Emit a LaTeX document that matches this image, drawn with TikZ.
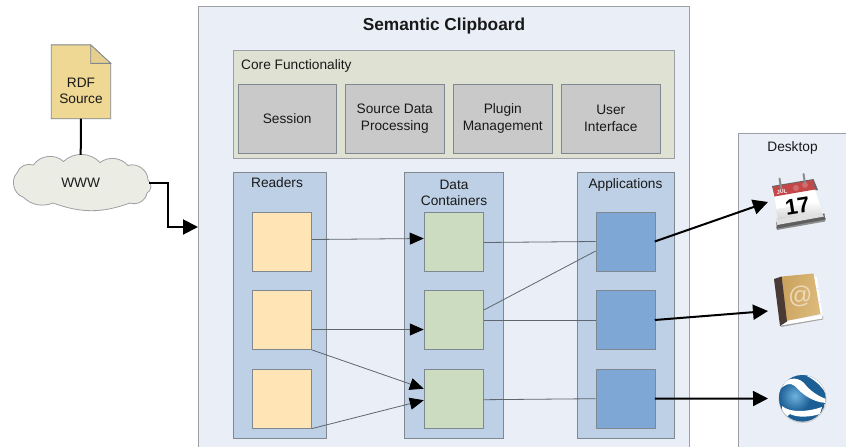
\documentclass[tikz,border=0pt]{standalone}
\usepackage{fontspec}
\setmainfont{Liberation Sans}
\usetikzlibrary{arrows.meta,calc}
\definecolor{panelfill}{HTML}{E9EEF7}
\definecolor{panelline}{HTML}{9C9FA3}
\definecolor{corefill}{HTML}{DFE2D2}
\definecolor{grayfill}{HTML}{C9C9C9}
\definecolor{groupfill}{HTML}{BDD0E5}
\definecolor{boxline}{HTML}{7F8790}
\definecolor{yellowfill}{HTML}{FFE4B5}
\definecolor{greenfill}{HTML}{CBDCC0}
\definecolor{bluefill}{HTML}{7FA7D6}
\definecolor{docfill}{HTML}{EFD794}
\definecolor{foldfill}{HTML}{E6CF8E}
\definecolor{cloudfill}{HTML}{EBEDE5}
\definecolor{linkgray}{HTML}{5F666D}
\definecolor{calred}{HTML}{C4474A}
\definecolor{caldark}{HTML}{5E5E5E}
\definecolor{booktan}{HTML}{CBA35F}
\definecolor{booktanlight}{HTML}{DDBB7C}
\definecolor{bookspine}{HTML}{4A3A36}
\definecolor{ballblue}{HTML}{1B5F96}
\definecolor{balllight}{HTML}{6FB2DE}
\tikzset{
  x=1pt,y=-1pt,
  lbl/.style={font=\fontsize{13.7}{16.7}\selectfont,align=center,text=black!90},
  panel/.style={draw=panelline,fill=panelfill,line width=0.9pt,inner sep=0pt,anchor=north west},
  group/.style={draw=boxline,fill=groupfill,line width=0.8pt,inner sep=0pt,anchor=north west},
  corebox/.style={draw=panelline,fill=corefill,line width=0.8pt,inner sep=0pt,anchor=north west},
  graybox/.style={draw=boxline,fill=grayfill,line width=0.8pt,inner sep=0pt,lbl,minimum width=98.5pt,minimum height=69pt},
  cell/.style={draw=boxline,line width=0.8pt,inner sep=0pt,minimum width=59.3pt,minimum height=59pt},
  thinlink/.style={draw=linkgray,line width=0.8pt,-{Triangle[length=14pt,width=12pt,fill=black,color=black]}},
  plainlink/.style={draw=linkgray,line width=0.8pt},
  thicklink/.style={draw=black,line width=2pt,-{Triangle[length=15pt,width=15pt,fill=black]}},
  heavy/.style={draw=black,line width=2pt},
}
\begin{document}
\begin{tikzpicture}
\clip (0,0) rectangle (846,447);
\fill[white] (0,0) rectangle (846,447);
% panels
\node[panel,minimum width=491pt,minimum height=470pt] (main) at (198,6) {};
\node[panel,minimum width=130pt,minimum height=330pt] (desk) at (738,133) {};
\node[font=\bfseries\fontsize{17.3}{20}\selectfont,text=black!90] (title) at (444,26.5) {Semantic Clipboard};
\node[lbl] (desktitle) at (792.5,147.5) {Desktop};
% core
\node[corebox,minimum width=441pt,minimum height=108pt] (core) at (232.7,50) {};
\node[lbl,anchor=west,inner sep=0pt] (coretitle) at (241,65.5) {Core Functionality};
\node[graybox] (session) at (287.2,118.5) {Session};
\node[graybox] (source) at (394.8,118.5) {\rule{0pt}{3pt}Source Data\\Processing};
\node[graybox] (plugin) at (502.8,118.5) {\rule{0pt}{3pt}Plugin\\Management};
\node[graybox] (ui) at (610.8,118.5) {\rule{0pt}{3pt}User\\Interface};
% groups
\node[group,minimum width=93.3pt,minimum height=266pt] (readers) at (232.8,172.3) {};
\node[group,minimum width=98.5pt,minimum height=266pt] (containers) at (404.3,172.3) {};
\node[group,minimum width=97.6pt,minimum height=266pt] (apps) at (576.5,172.3) {};
\node[lbl] (readerstitle) at (277,183) {Readers};
\node[lbl] (containerstitle) at (454,193) {Data\\Containers};
\node[lbl] (appstitle) at (625.5,184.5) {Applications};
% cells
\foreach \n/\y in {1/241.5,2/320,3/398.7}{
  \node[cell,fill=yellowfill] (r\n) at (281.8,\y) {};
  \node[cell,fill=greenfill] (d\n) at (453.8,\y) {};
  \node[cell,fill=bluefill] (a\n) at (625.7,\y) {};
}
% document
\node[inner sep=0pt,minimum width=59pt,minimum height=73.5pt] (doc) at (81,81.8) {};
\draw[fill=docfill,draw=boxline,line width=0.8pt] (doc.north west) -- ($(doc.north east)+(-20,0)$) -- ($(doc.north east)+(0,18.5)$) -- (doc.south east) -- (doc.south west) -- cycle;
\draw[fill=foldfill,draw=boxline,line width=0.8pt] ($(doc.north east)+(-20,0)$) -- ($(doc.north east)+(-20,18.5)$) -- ($(doc.north east)+(0,18.5)$) -- cycle;
\node[lbl] (doctext) at (81,91) {RDF\\Source};
% cloud
\draw[draw=panelline,fill=cloudfill,line width=0.8pt]
  (33.5,165) to[bend left=50] (63.5,161.5) to[bend left=45] (100,162.5) to[bend left=42] (128,165.5)
  to[bend left=55] (148,180) to[bend left=65] (147,193) to[bend left=50] (130,203)
  to[bend left=20] (53,203) to[bend left=32] (23,197) to[bend left=60] (17,173) to[bend left=45] cycle;
\node[inner sep=0pt,minimum width=137pt,minimum height=56pt,lbl] (www) at (80.7,183) {WWW};
% calendar icon
\fill[black!45] (777,230) -- (825,221.5) -- (826,218) -- (776,227) -- cycle;
\fill[caldark] (776,222) -- (824.5,213.5) -- (825,219.5) -- (777,228.5) -- cycle;
\fill[black!12] (775.5,218) -- (820,210) -- (824,216.5) -- (777,225) -- cycle;
\fill[black!60] (772,186) -- (813.5,179) -- (818,190) -- (775,197) -- cycle;
\fill[white] (774.5,196) -- (815,189) -- (822,212) -- (778,220) -- cycle;
\shade[top color=white,bottom color=black!18] (776,209) -- (819,201.5) -- (822,212) -- (778,220) -- cycle;
\fill[calred] (772.5,187) -- (813,180) -- (815,189.5) -- (774.5,196.5) -- cycle;
\fill[calred!80!white] (796,188) circle (3pt) (805,185) circle (3pt);
\draw[black!45,line width=2pt,line cap=round] (779.5,178.5) -- (781,188);
\draw[black!45,line width=2pt,line cap=round] (803.5,174) -- (805,183.5);
\node[rotate=9,text=white,font=\bfseries\fontsize{5.5}{6}\selectfont,inner sep=0pt] (jul) at (782,191.5) {JUL};
\node[rotate=9,text=black,font=\bfseries\fontsize{22}{22}\selectfont,inner sep=0pt] (day) at (797.5,206) {17};
\coordinate (ical) at (768,202);
% address book icon
\fill[black!35] (781,327) -- (823,319.5) -- (823,316) -- (780,323) -- cycle;
\foreach \ya/\yb/\xa in {276/288/813,289/301/815,302/314/817}{
  \fill[white] (\xa,\ya) -- (\xa+4,\ya+1) -- (\xa+5.5,\yb) -- (\xa+2,\yb) -- cycle;
}
\fill[white] (780,322) -- (822,315) -- (822.5,318.5) -- (781,325.5) -- cycle;
\shade[left color=booktan,right color=booktanlight,shading angle=80] (781.7,276.5) -- (813.5,273.5) -- (820.5,314) -- (786,321) -- cycle;
\fill[bookspine] (774,279) -- (781.7,276.5) -- (787,321.5) -- (780,326) -- cycle;
\node[rotate=5,text=booktanlight!55!white,font=\fontsize{24}{24}\selectfont,inner sep=0pt] (at) at (800.5,296.5) {@};
\coordinate (ibook) at (768,311);
% earth icon
\fill[black!20] (802.5,399) circle (24pt);
\begin{scope}
  \clip (802.3,398.3) circle (23.3pt);
  \fill[ballblue] (802.3,398.3) circle (23.3pt);
  \shade[inner color=balllight,outer color=ballblue] (795,396) circle (16pt);
  \fill[white] (779,389) .. controls (785,377) and (797,376) .. (804,383)
     .. controls (810,391) and (818,396) .. (826,399) -- (826,403)
     .. controls (812,402) and (802,394) .. (795,386)
     .. controls (790,382) and (784,384) .. (779,391) -- cycle;
  \fill[white] (807,376) .. controls (815,380) and (821,386) .. (825,392) -- (828,380) -- (815,372) -- cycle;
  \fill[white] (782,406) .. controls (790,413) and (808,412) .. (822,407)
     -- (820,414) .. controls (810,417) and (798,418) .. (790,414)
     -- (785,418) .. controls (783,414) and (782,410) .. (782,406) -- cycle;
\end{scope}
\coordinate (iearth) at (768,398.5);
% connectors
\draw[heavy] (doc.south) -- (www.north);
\draw[thicklink] (www.east) -- ++(19,0) |- (main.west |- 0,227);
\draw[thinlink] ([yshift=2pt]r1.east) -- ([yshift=3pt]d1.west);
\draw[thinlink] ([yshift=-9.5pt]r2.east) -- ([yshift=-9.5pt]d2.west);
\draw[thinlink] (r2.south east) -- ([yshift=10pt]d3.west);
\draw[thinlink] (r3.south east) -- ([yshift=-1.5pt]d3.west);
\draw[plainlink] ([yshift=-1pt]d1.east) -- (a1.west);
\draw[plainlink] ([yshift=10pt]d2.east) -- ([yshift=-9.5pt]a1.west);
\draw[plainlink] (d2.east) -- (a2.west);
\draw[plainlink] ([yshift=-1pt]d3.east) -- (a3.west);
\draw[thicklink] ([xshift=-1pt]a1.east) -- (ical);
\draw[thicklink] ([xshift=-1pt]a2.east) -- (ibook);
\draw[thicklink] ([xshift=-1pt]a3.east) -- (iearth);
\end{tikzpicture}
\end{document}
